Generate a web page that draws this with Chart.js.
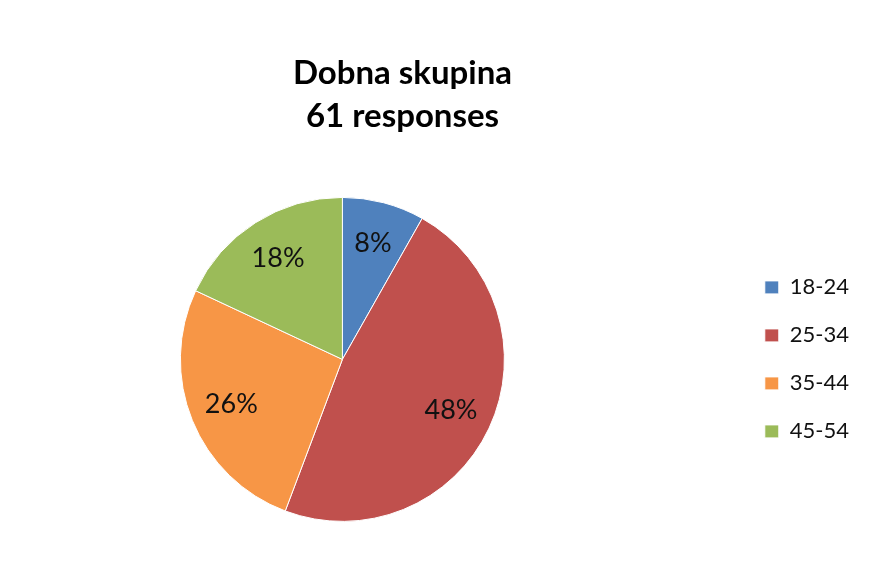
<!DOCTYPE html>
<html>
<head>
<meta charset="utf-8">
<script src="https://cdn.jsdelivr.net/npm/chart.js@4/dist/chart.umd.min.js"></script>
<style>
body{margin:0;background:#fff;}
</style>
</head>
<body>
<canvas id="ageChart" width="876" height="574"></canvas>
<script>

const labels = ["18-24", "25-34", "35-44", "45-54"];

const responses = [5, 29, 16, 11];

const titleLines = ["Dobna skupina", "61 responses"];

const colors = ["#4F81BD", "#C0504D", "#F79646", "#9BBB59"];


// percent labels inside each slice
const sliceLabels = {
id: "sliceLabels",
afterDatasetsDraw(chart) {
const ctx = chart.ctx;
const meta = chart.getDatasetMeta(0);
const values = chart.data.datasets[0].data;
const total = values.reduce((a, b) => a + b, 0);
ctx.save();
ctx.font = "27px Lato";
ctx.fillStyle = "#111";
ctx.textAlign = "center";
ctx.textBaseline = "middle";
meta.data.forEach((arc, i) => {
const p = arc.getProps(["x", "y", "startAngle", "endAngle", "outerRadius"], true);
const mid = (p.startAngle + p.endAngle) / 2;
const r = p.outerRadius * 0.74;
const pct = Math.round(values[i] / total * 100) + "%";
ctx.fillText(pct, p.x + Math.cos(mid) * r, p.y + Math.sin(mid) * r);
});
ctx.restore();
}
};


// legend sits further right than the pie's box ends
const legendShift = {
id: "legendShift",
afterLayout(chart) {
const lg = chart.legend;
lg.left += 54;
lg.right += 54;
}
};


new Chart(
document.getElementById("ageChart"),
{

type: "pie",

data: {

labels: labels,

datasets: [{

data: responses,

backgroundColor: colors,

borderColor: "#fff",

borderWidth: 1,

radius: 162

}]

},

options: {

responsive: false,

animation: false,

devicePixelRatio: 1,

layout: {
padding: {left: 0, right: 71, top: 0, bottom: 38}
},

plugins: {

title: {
display: true,
text: titleLines,
color: "#000",
font: {family: "Lato", size: 33, weight: "bold", lineHeight: 1.3},
padding: {top: 52, bottom: 45}
},

legend: {
position: "right",
fullSize: false,
labels: {
boxWidth: 14,
boxHeight: 13,
padding: 26,
color: "#111",
font: {family: "Lato", size: 22}
}
},

tooltip: {enabled: false}

}

},

plugins: [sliceLabels, legendShift]

});

</script>
</body>
</html>
